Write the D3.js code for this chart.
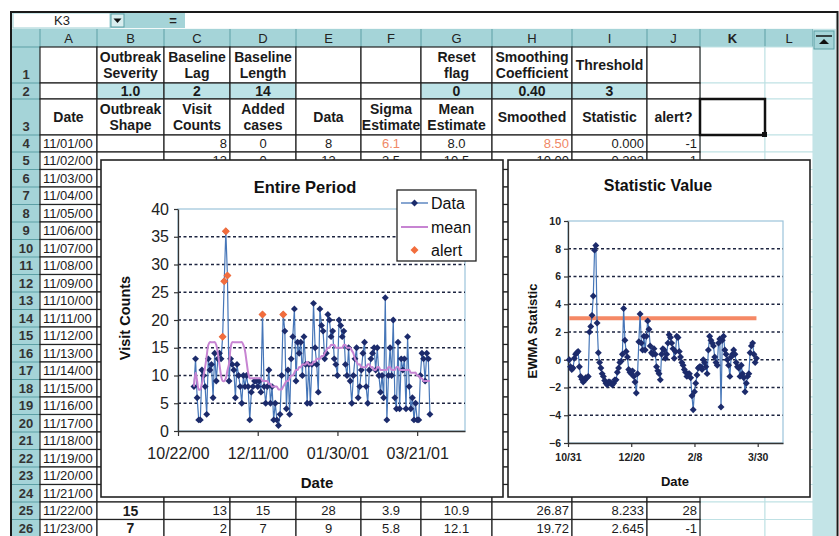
<!DOCTYPE html>
<html>
<head>
<meta charset="utf-8">
<script src="https://cdn.jsdelivr.net/npm/d3@7"></script>
<style>
  body { margin: 0; background: #fff; }
  svg { display: block; font-family: "Liberation Sans", Arial, sans-serif; }
</style>
</head>
<body>
<svg id="sheet" width="839" height="536"></svg>
<script>
// ---- data ----
const startDate = "11/01/00", endDate = "03/29/01";

// daily Data column (visit counts + added cases)
const visitData = [8, 13, 6, 2, 2, 11, 10, 8, 3, 13, 11, 12, 6, 14, 9, 13, 14, 13, 17, 27, 36, 28, 9,
  13, 12, 11, 6, 12, 10, 8, 5, 10, 8, 10, 8, 2, 7, 8, 9, 9, 8, 9, 7,
  21, 8, 5, 8, 11, 5, 8, 2, 5, 2, 1, 3, 10, 21, 18, 4, 11, 3, 13, 17, 22, 9, 16, 14,
  16, 10, 17, 12, 5, 12, 5, 12, 23, 15, 12, 7, 22, 19, 18, 13, 14, 21, 20, 17, 18, 13, 12, 10, 20, 19, 17, 18, 12, 10, 15, 9, 5,
  10, 13, 15, 6, 8, 11, 14, 16, 8, 5, 11, 13, 14, 15, 11, 15, 10, 7, 10, 6, 24, 2, 10, 15, 10, 20, 6, 4, 16, 4,
  13, 11, 13, 4, 17, 8, 4, 6, 2, 5, 2, 2, 10, 14, 13, 9, 14, 13, 3];

// Mean Estimate column
const meanEstimate = [8, 10.5, 9, 7.5, 7.5, 8.5, 10, 11.5, 13.5, 15.5, 16, 16, 16, 16, 15.5, 14, 12, 10, 9, 9, 9.5, 10.9, 12.1,
  15, 16, 16, 16, 16, 16, 16, 16, 15.5, 14.5, 12.5, 10.5, 9.5, 9.5, 9.5, 9.5, 9.5, 9.5, 9.5, 9.5,
  9, 9, 9, 9, 8.5, 8.5, 8, 8, 8, 8, 7.5, 7.5, 7.5, 8, 8.5, 9, 9, 9.5, 10, 10, 10.5, 11, 11, 11.5,
  11.5, 12, 12, 12, 12.5, 12, 12, 12, 12.5, 12.5, 13, 13, 13, 13.5, 13.5, 14, 14.5, 15, 15, 15.5, 15.5, 15.5, 15, 15, 15, 15, 15, 15.5, 15.5, 15, 15, 15, 14.5,
  14, 13, 12.5, 12, 12, 11.5, 11.5, 11.5, 11.5, 12, 12, 11.5, 11.5, 11, 11, 11.5, 11.5, 11, 11, 11, 11, 11, 11.5, 11.5, 11,
  11, 11, 11.5, 11.5, 11, 11, 11, 11, 11, 11, 11, 10.5, 10.5, 10.5, 10.5, 10, 10, 9.5, 9.5, 9, 9, 9, 9, 9];

// EWMA Statistic column
const ewmaStatistic = [0, -0.5, -0.7, -0.6, 0.1, 0.4, 0.5, 0.6, -0.5, -1.2, -1.4, -1.6, -1.5, -1.3, -1.3, -1.2, 2.0, 2.4, 3.2, 4.6, 7.9, 8.233, 2.645,
  0.5, -0.2, -0.6, -1.0, -1.2, -1.5, -1.7, -1.8, -1.6, -1.6, -1.7, -1.8, -1.7, -1.45, -1.45, -0.9, -0.6, -0.2, -0.1, 0.4,
  3.7, 1.4, 0.6, 0.2, -0.7, -0.9, -1.0, -0.8, -1.2, -1.6, -2.4, -1.0, 1.3, 3.3, 1.2, 0.7, 1.7, 0.7, 1.7, 2.8, 2.2, 1.0, 0.5, 0.4,
  0.8, 0.4, -0.5, -0.8, -1.0, -1.45, 0.4, 0.8, 0.7, 0.1, 0.4, 1.2, 1.8, 1.6, 1.2, 0.8, 0.1, 0.6, 1.7, 1.6, 0.6, 0.2, -0.2, -0.4, -0.7, -0.9, -1.2, -1.0, -1.0, -1.3, -2.6, -3.6, -2.3,
  -1.7, -1.1, -0.6, -0.5, -0.5, -0.7, 0.0, -0.2, -0.5, -1.0, 0.7, 1.7, 1.4, 1.2, 1.0, 0.2, -0.2, -0.4, 1.2, 1.5, -3.4, 1.4, 1.7, 0.7, 0.4,
  0.0, -0.4, -1.2, 0.2, 0.4, 0.7, 0.4, -0.2, -0.5, -0.6, -1.2, -0.4, -1.0, -1.3, -2.3, -1.7, -1.2, -1.0, 0.5, 1.0, 1.2, 0.4, -0.2, 0.1];

const alertDates = ["11/19/00", "11/20/00", "11/21/00", "11/22/00", "12/14/00", "12/27/00"];
const alertCounts = [17, 27, 36, 28, 21, 21];
const threshold = 3;

const leftXTicks = ["10/22/00", "12/11/00", "01/30/01", "03/21/01"];
const rightXTicks = ["10/31/00", "12/20/00", "02/08/01", "03/30/01"];
const countTicks = [0, 5, 10, 15, 20, 25, 30, 35, 40];
const statTicks = [-6, -4, -2, 0, 2, 4, 6, 8, 10];

// spreadsheet text
const columnLetters = ["A", "B", "C", "D", "E", "F", "G", "H", "I", "J", "K", "L"];
const headerRow1 = ["", "Outbreak\nSeverity", "Baseline\nLag", "Baseline\nLength", "", "", "Reset\nflag", "Smoothing\nCoefficient", "Threshold", ""];
const paramRow2 = ["", "1.0", "2", "14", "", "", "0", "0.40", "3", ""];
const headerRow3 = ["Date", "Outbreak\nShape", "Visit\nCounts", "Added\ncases", "Data", "Sigma\nEstimate", "Mean\nEstimate", "Smoothed", "Statistic", "alert?"];
const row4 = ["", "", "8", "0", "8", "6.1", "8.0", "8.50", "0.000", "-1"];
const row5 = ["", "", "13", "0", "13", "3.5", "10.5", "10.00", "0.283", "1"];
const row25 = ["", "15", "13", "15", "28", "3.9", "10.9", "26.87", "8.233", "28"];
const row26 = ["", "7", "2", "7", "9", "5.8", "12.1", "19.72", "2.645", "-1"];

// ---- layout ----
const parse = d3.timeParse("%m/%d/%y");
const fmt = d3.timeFormat("%m/%d/%y");
const days = d3.timeDay.range(parse(startDate), d3.timeDay.offset(parse(endDate), 1));

const teal = "#a5d4d8", tealDark = "#5c9fa5";
const colX = [40, 97, 164, 230, 296, 361, 421, 492, 572, 647, 700, 765, 813];
function rowTop(r) {
  if (r === 1) return 47;
  if (r === 2) return 83;
  if (r === 3) return 99;
  if (r === 4) return 135;
  return 152 + (r - 5) * 17.5;
}

const sheet = d3.select("#sheet");
sheet.append("rect").attr("width", 839).attr("height", 536).attr("fill", "#fff");

// formula bar
sheet.append("rect").attr("x", 11).attr("y", 12).attr("width", 826).attr("height", 17).attr("fill", "#f3f9f9");
sheet.append("rect").attr("x", 13).attr("y", 13).attr("width", 97).attr("height", 15).attr("fill", "#fff").attr("stroke", "#9ccfd3");
sheet.append("text").attr("x", 62).attr("y", 25).attr("text-anchor", "middle").attr("font-size", 13).attr("fill", "#222").text("K3");
sheet.append("rect").attr("x", 110).attr("y", 13).attr("width", 75).attr("height", 15).attr("fill", teal);
sheet.append("rect").attr("x", 111).attr("y", 14).attr("width", 13).attr("height", 13).attr("fill", "#d8eeef").attr("stroke", tealDark);
sheet.append("path").attr("d", "M113.5,18.5 L121.5,18.5 L117.5,23 Z").attr("fill", "#111");
sheet.append("text").attr("x", 173).attr("y", 25).attr("text-anchor", "middle").attr("font-size", 13).attr("font-weight", "bold").attr("fill", "#222").text("=");
sheet.append("rect").attr("x", 185).attr("y", 13).attr("width", 650).attr("height", 15).attr("fill", "#fff");

// column headers
sheet.append("rect").attr("x", 12).attr("y", 29).attr("width", 801).attr("height", 18).attr("fill", teal);
columnLetters.forEach((l, i) => {
  sheet.append("text").attr("x", (colX[i] + colX[i + 1]) / 2).attr("y", 43)
    .attr("text-anchor", "middle").attr("font-size", 13).attr("font-weight", l === "K" ? "bold" : "normal")
    .attr("fill", "#222").text(l);
});
colX.forEach(x => sheet.append("line").attr("x1", x).attr("x2", x).attr("y1", 29).attr("y2", 47).attr("stroke", tealDark));

// row headers
sheet.append("rect").attr("x", 12).attr("y", 47).attr("width", 28).attr("height", 490).attr("fill", teal);
for (let r = 1; r <= 26; r++) {
  const y0 = rowTop(r), y1 = rowTop(r + 1);
  sheet.append("line").attr("x1", 12).attr("x2", 40).attr("y1", y0).attr("y2", y0).attr("stroke", tealDark);
  const tall = y1 - y0 > 20;
  sheet.append("text").attr("x", 26).attr("y", tall ? y1 - 4 : (y0 + y1) / 2).attr("dy", tall ? 0 : "0.36em")
    .attr("text-anchor", "middle").attr("font-size", 13).attr("font-weight", "bold").attr("fill", "#333").text(r);
}

// cells
const shaded = [1, 2, 3, 6, 7, 8];
for (let r = 1; r <= 26; r++) {
  for (let c = 10; c < 12; c++) {
    sheet.append("rect").attr("x", colX[c]).attr("y", rowTop(r)).attr("width", colX[c + 1] - colX[c])
      .attr("height", rowTop(r + 1) - rowTop(r)).attr("fill", "#fff").attr("stroke", "#bfe1e4");
  }
}
for (let r = 1; r <= 26; r++) {
  for (let c = 0; c < 10; c++) {
    sheet.append("rect").attr("x", colX[c]).attr("y", rowTop(r)).attr("width", colX[c + 1] - colX[c])
      .attr("height", rowTop(r + 1) - rowTop(r))
      .attr("fill", r === 2 && shaded.includes(c) ? "#bde3e7" : "#fff")
      .attr("stroke", "#222").attr("stroke-width", 1.2);
  }
}

function cellText(r, c, str, align, bold, color) {
  if (!str) return;
  const x0 = colX[c], x1 = colX[c + 1];
  const cy = (rowTop(r) + rowTop(r + 1)) / 2;
  const x = align === "start" ? x0 + 3 : align === "end" ? x1 - 3 : (x0 + x1) / 2;
  const lines = String(str).split("\n");
  lines.forEach((ln, i) => {
    sheet.append("text").attr("x", x).attr("y", cy + (i - (lines.length - 1) / 2) * 16.5).attr("dy", "0.36em")
      .attr("text-anchor", align).attr("font-size", bold ? 14 : 13).attr("font-weight", bold ? "bold" : "normal")
      .attr("fill", color || "#1a1a1a").text(ln);
  });
}

const dataAlign = ["start", "middle", "end", "middle", "middle", "middle", "middle", "end", "end", "end"];
headerRow1.forEach((s, c) => cellText(1, c, s, "middle", true));
paramRow2.forEach((s, c) => cellText(2, c, s, "middle", true));
headerRow3.forEach((s, c) => cellText(3, c, s, "middle", true));
[[4, row4], [5, row5], [25, row25], [26, row26]].forEach(([r, row]) => {
  row.forEach((s, c) => {
    const orange = r === 4 && (c === 5 || c === 7);
    cellText(r, c, s, dataAlign[c], c === 1, orange ? "#f08866" : null);
  });
});
for (let r = 4; r <= 26; r++) cellText(r, 0, fmt(days[r - 4]), "start", false);

// selected cell K3
sheet.append("rect").attr("x", 700).attr("y", 99).attr("width", 65).attr("height", 36)
  .attr("fill", "none").attr("stroke", "#111").attr("stroke-width", 2.5);
sheet.append("rect").attr("x", 762).attr("y", 132).attr("width", 5).attr("height", 5).attr("fill", "#111");

// scrollbar
sheet.append("rect").attr("x", 813).attr("y", 29).attr("width", 23).attr("height", 508).attr("fill", "#c3e4e7");
sheet.append("rect").attr("x", 814).attr("y", 31).attr("width", 20).attr("height", 18).attr("fill", teal).attr("stroke", tealDark);
sheet.append("path").attr("d", "M819,44 L829,44 L824,39 Z").attr("fill", "#111");
sheet.append("line").attr("x1", 816).attr("x2", 832).attr("y1", 36).attr("y2", 36).attr("stroke", "#111").attr("stroke-width", 1.5);

// outer frame
sheet.append("path").attr("d", "M11,540 L11,12 L837.5,12 L837.5,540").attr("fill", "none").attr("stroke", "#1a1a1a").attr("stroke-width", 2);

// ---- charts ----
const navy = "#1c2b6b", lineBlue = "#4676b8", purple = "#c784d2", orange = "#f26d3d";
const marker = d3.symbol(d3.symbolSquare, 24);

function styleAxis(g, size, bold) {
  g.select(".domain").attr("stroke", "#333").attr("stroke-width", 1.3);
  g.selectAll(".tick line").attr("stroke", "#333").attr("stroke-width", 1.2);
  g.selectAll(".tick text").attr("font-size", size).attr("font-weight", bold ? "bold" : "normal")
    .attr("font-family", '"Liberation Sans", Arial, sans-serif').attr("fill", "#222");
}

// left chart: Entire Period
const left = sheet.append("g");
left.append("rect").attr("x", 101).attr("y", 160).attr("width", 402).attr("height", 337)
  .attr("fill", "#fff").attr("stroke", "#222").attr("stroke-width", 1.6);
left.append("text").attr("x", 305).attr("y", 193).attr("text-anchor", "middle")
  .attr("font-size", 16.5).attr("font-weight", "bold").attr("fill", "#111").text("Entire Period");

const xL = d3.scaleTime().domain([parse("10/22/00"), parse("04/20/01")]).range([178, 465]);
const yL = d3.scaleLinear().domain([0, 40]).range([431, 209]);

left.append("rect").attr("x", 178).attr("y", 209).attr("width", 287).attr("height", 222)
  .attr("fill", "none").attr("stroke", "#9cc4da").attr("stroke-width", 1.2);
left.selectAll(".grid").data(countTicks.filter(t => t > 0 && t < 40)).join("line")
  .attr("x1", 178).attr("x2", 465).attr("y1", d => yL(d)).attr("y2", d => yL(d))
  .attr("stroke", "#1d2440").attr("stroke-width", 1.3).attr("stroke-dasharray", "3,2.5");

left.append("g").attr("transform", "translate(0,431)")
  .call(d3.axisBottom(xL).tickValues(leftXTicks.map(parse)).tickFormat(fmt).tickSize(5).tickSizeOuter(0).tickPadding(12))
  .call(g => styleAxis(g, 16, false));
left.append("g").attr("transform", "translate(178,0)")
  .call(d3.axisLeft(yL).tickValues(countTicks).tickSize(4).tickSizeOuter(0).tickPadding(5))
  .call(g => styleAxis(g, 16, false));

left.append("text").attr("transform", "translate(130,318) rotate(-90)").attr("text-anchor", "middle")
  .attr("font-size", 14.5).attr("font-weight", "bold").attr("fill", "#111").text("Visit Counts");
left.append("text").attr("x", 317).attr("y", 488).attr("text-anchor", "middle")
  .attr("font-size", 15).attr("font-weight", "bold").attr("fill", "#111").text("Date");

left.append("path").datum(visitData)
  .attr("d", d3.line().x((d, i) => xL(days[i])).y(d => yL(d)))
  .attr("fill", "none").attr("stroke", lineBlue).attr("stroke-width", 1.2);
left.selectAll(".pt").data(visitData).join("path")
  .attr("d", marker).attr("fill", navy)
  .attr("transform", (d, i) => `translate(${xL(days[i])},${yL(d)}) rotate(45)`);
left.append("path").datum(meanEstimate)
  .attr("d", d3.line().curve(d3.curveCatmullRom).x((d, i) => xL(days[i])).y(d => yL(d)))
  .attr("fill", "none").attr("stroke", purple).attr("stroke-width", 2);
left.selectAll(".alert").data(alertCounts).join("path")
  .attr("d", d3.symbol(d3.symbolSquare, 32)).attr("fill", orange)
  .attr("transform", (d, i) => `translate(${xL(parse(alertDates[i]))},${yL(d)}) rotate(45)`);

// legend
const lg = left.append("g");
lg.append("rect").attr("x", 397).attr("y", 190).attr("width", 79).attr("height", 71)
  .attr("fill", "#fff").attr("stroke", "#222").attr("stroke-width", 1.3);
lg.append("line").attr("x1", 401).attr("x2", 428).attr("y1", 203).attr("y2", 203).attr("stroke", lineBlue).attr("stroke-width", 1.3);
lg.append("path").attr("d", marker).attr("fill", navy).attr("transform", "translate(414.5,203) rotate(45)");
lg.append("line").attr("x1", 401).attr("x2", 428).attr("y1", 227).attr("y2", 227).attr("stroke", purple).attr("stroke-width", 2);
lg.append("path").attr("d", d3.symbol(d3.symbolSquare, 32)).attr("fill", orange).attr("transform", "translate(414.5,250) rotate(45)");
[["Data", 203], ["mean", 227], ["alert", 250]].forEach(([t, y]) => {
  lg.append("text").attr("x", 431).attr("y", y).attr("dy", "0.36em").attr("font-size", 16).attr("fill", "#111").text(t);
});

// right chart: Statistic Value
const right = sheet.append("g");
right.append("rect").attr("x", 508).attr("y", 160).attr("width", 302).attr("height", 337)
  .attr("fill", "#fff").attr("stroke", "#222").attr("stroke-width", 1.6);
right.append("text").attr("x", 658).attr("y", 191).attr("text-anchor", "middle")
  .attr("font-size", 16).attr("font-weight", "bold").attr("fill", "#111").text("Statistic Value");

const xR = d3.scaleTime().domain([parse("10/31/00"), parse("04/19/01")]).range([568, 783]);
const yR = d3.scaleLinear().domain([-6, 10]).range([443, 221]);

right.append("rect").attr("x", 568).attr("y", 221).attr("width", 215).attr("height", 222)
  .attr("fill", "none").attr("stroke", "#9cc4da").attr("stroke-width", 1.2);
right.selectAll(".grid").data(statTicks.filter(t => t > -6 && t < 10)).join("line")
  .attr("x1", 568).attr("x2", 783).attr("y1", d => yR(d)).attr("y2", d => yR(d))
  .attr("stroke", "#1d2440").attr("stroke-width", 1.3).attr("stroke-dasharray", "3,2.5");

right.append("g").attr("transform", "translate(0,443)")
  .call(d3.axisBottom(xR).tickValues(rightXTicks.map(parse)).tickFormat(d3.timeFormat("%-m/%-d")).tickSize(4).tickSizeOuter(0).tickPadding(7))
  .call(g => styleAxis(g, 10.5, true));
right.append("g").attr("transform", "translate(568,0)")
  .call(d3.axisLeft(yR).tickValues(statTicks).tickSize(4).tickSizeOuter(0).tickPadding(3))
  .call(g => styleAxis(g, 10.5, true));

right.append("text").attr("transform", "translate(537,331) rotate(-90)").attr("text-anchor", "middle")
  .attr("font-size", 13).attr("font-weight", "bold").attr("fill", "#111").text("EWMA Statistic");
right.append("text").attr("x", 675).attr("y", 486).attr("text-anchor", "middle")
  .attr("font-size", 13).attr("font-weight", "bold").attr("fill", "#111").text("Date");

right.append("line")
  .attr("x1", xR(days[0])).attr("x2", xR(days[days.length - 1]))
  .attr("y1", yR(threshold)).attr("y2", yR(threshold))
  .attr("stroke", "#f47c55").attr("stroke-width", 4).attr("opacity", 0.9);
right.append("path").datum(ewmaStatistic)
  .attr("d", d3.line().x((d, i) => xR(days[i])).y(d => yR(d)))
  .attr("fill", "none").attr("stroke", lineBlue).attr("stroke-width", 1.2);
right.selectAll(".pt").data(ewmaStatistic).join("path")
  .attr("d", marker).attr("fill", navy)
  .attr("transform", (d, i) => `translate(${xR(days[i])},${yR(d)}) rotate(45)`);
</script>
</body>
</html>
